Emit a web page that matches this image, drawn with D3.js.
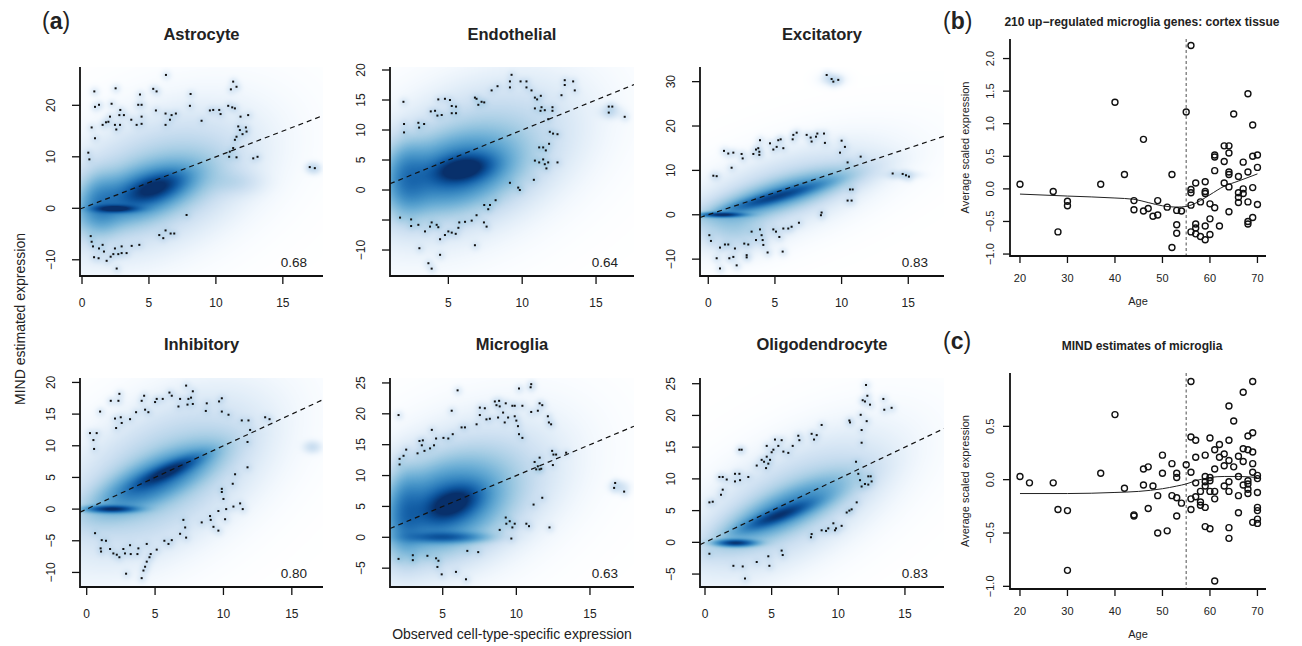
<!DOCTYPE html>
<html>
<head>
<meta charset="utf-8">
<script src="https://cdn.jsdelivr.net/npm/d3@7"></script>
<style>
  body { margin: 0; background: #fff; }
  text { font-family: "Liberation Sans", Arial, sans-serif; fill: #222; }
</style>
</head>
<body>
<svg id="main"></svg>
<script>
// ---- data ----
const cellTypes = ['Astrocyte', 'Endothelial', 'Excitatory', 'Inhibitory', 'Microglia', 'Oligodendrocyte'];
const corrLabels = ['0.68', '0.64', '0.83', '0.80', '0.63', '0.83'];
const xDomains = [[-0.15, 18], [1.05, 17.57], [-0.62, 17.68], [-0.49, 17.28], [1.42, 17.99], [-0.375, 17.93]];
const yDomains = [[-13.15, 27.44], [-14.33, 20.5], [-13.8, 33.3], [-12.3, 20.7], [-8.05, 25.8], [-7.04, 25.9]];
const xTicks = [[0, 5, 10, 15], [5, 10, 15], [0, 5, 10, 15], [0, 5, 10, 15], [5, 10, 15], [0, 5, 10, 15]];
const yTicks = [[-10, 0, 10, 20], [-10, -5, 0, 5, 10, 15, 20], [-10, 0, 10, 20, 30],
  [-10, -5, 0, 5, 10, 15, 20], [-5, 0, 5, 10, 15, 20, 25], [-5, 0, 5, 10, 15, 20, 25]];
const yLabelSkip = [[], [-5], [], [], [], []];
// reference line MIND = observed
const refIntercept = 0, refSlope = 1;

// density clouds: [centre x, centre y, spread x, spread y, correlation, weight]
const astroCloud = [[2.5, -0.1, 1.0, 0.45, 0, 0.8], [5.5, 4.0, 1.3, 1.8, 0.5, 0.6], [4.5, 3.0, 2.6, 3.6, 0.55, 0.45],
  [1.3, 1.0, 0.9, 3.5, 0, 0.22], [5.5, 5, 4, 7.5, 0.4, 0.13], [11.5, 5, 1.2, 1.5, 0, 0.04], [17.3, 7.8, 0.35, 0.7, 0, 0.04]];
const endoCloud = [[6, 3.5, 1.2, 1.4, 0.3, 0.75], [5.5, 3, 2.3, 3.5, 0.3, 0.5], [2.2, 2, 0.9, 3.5, 0, 0.32],
  [6.5, 5, 3.8, 7, 0.4, 0.14], [16, 13, 0.5, 0.7, 0, 0.04]];
const exciCloud = [[1.0, 0, 1.0, 0.35, 0, 0.8], [5, 4, 2.2, 2.0, 0.9, 0.5], [5.5, 4.5, 3.2, 3.4, 0.8, 0.3],
  [5.5, 5, 4, 6, 0.6, 0.09], [2, -3, 1.5, 3, 0, 0.08], [9.3, 30.5, 0.5, 0.8, 0, 0.04], [14.5, 9, 0.8, 0.6, 0, 0.04]];
const inhiCloud = [[1.8, 0, 1.1, 0.35, 0, 0.8], [6, 6, 1.5, 1.6, 0.85, 0.6], [5, 4.5, 2.6, 3.2, 0.75, 0.45],
  [5.5, 5, 4, 7, 0.5, 0.13], [16.5, 9.8, 0.4, 0.6, 0, 0.05]];
const micrCloud = [[5.7, 5.5, 1.1, 1.7, 0.4, 0.7], [5.2, 0, 1.6, 0.55, 0, 0.45], [5, 5, 2.3, 4, 0.3, 0.5],
  [6, 6.5, 3.6, 6.5, 0.4, 0.14], [2.5, 4, 0.7, 4, 0, 0.25], [17, 8.2, 0.4, 0.6, 0, 0.04]];
const oligCloud = [[2.3, -0.1, 0.9, 0.35, 0, 0.8], [5.5, 4.2, 1.6, 1.4, 0.85, 0.55], [6, 5, 2.8, 3.2, 0.8, 0.35],
  [6.5, 6, 4, 6, 0.6, 0.11]];

// sparse points drawn as dots: [observed, MIND]
const astroDots = [[0.92, 22.7], [0.97, 19.7], [1.27, 20.1], [0.72, 15.7], [0.97, 13.6], [0.47, 10.8], [0.55, 9.5],
  [1.54, 16.2], [1.79, 16.7], [1.97, 16.8], [2.09, 17.8], [2.21, 20.3], [2.51, 23.3], [2.46, 16.2], [2.56, 15.3],
  [2.79, 18.1], [2.86, 19.1], [3.13, 18.1], [2.84, 16.2], [3.68, 17.2], [4.08, 16.2], [4.33, 22.1], [4.2, 20.1],
  [4.45, 20.1], [4.45, 17.8], [4.45, 16.4], [5.32, 23.2], [5.57, 22.7], [5.52, 19.0], [6.27, 25.9], [6.24, 18.4],
  [6.24, 16.2], [6.57, 17.2], [6.69, 18.1], [7.01, 18.4], [8.11, 22.2], [8.06, 19.9], [8.93, 17.0], [9.55, 19.0],
  [9.8, 19.1], [10.25, 19.1], [10.35, 18.3], [10.92, 19.9], [11.22, 19.6], [11.42, 19.4], [11.12, 23.1],
  [11.29, 24.6], [11.54, 23.6], [11.84, 17.8], [12.41, 18.1], [11.67, 15.9], [11.79, 15.2], [12.24, 15.7],
  [12.29, 14.9], [11.99, 14.4], [11.54, 13.9], [11.42, 13.3], [11.29, 11.7], [11.04, 11.0], [10.99, 10.0],
  [11.54, 9.9], [12.79, 9.7], [13.11, 10.0], [17.01, 8.0], [17.39, 7.8], [7.81, -1.3], [5.77, -5.2], [6.07, -5.8],
  [6.24, -4.3], [6.62, -4.9], [6.89, -4.9], [0.65, -5.4], [0.72, -6.5], [0.82, -7.4], [0.9, -9.5], [1.24, -9.7],
  [1.27, -7.8], [1.54, -7.1], [1.64, -8.4], [1.84, -10.2], [2.14, -9.4], [2.46, -7.8], [2.59, -11.7], [2.71, -8.9],
  [2.96, -7.4], [2.96, -8.7], [3.33, -8.7], [3.71, -7.3], [4.28, -7.1], [2.34, -8.9]];
const endoDots = [[1.96, 14.7], [2.0, 11.0], [2.0, 9.6], [2.97, 11.2], [3.02, 10.4], [3.36, 11.0], [3.81, 13.1],
  [4.1, 13.2], [4.26, 12.4], [4.55, 12.5], [4.32, 15.1], [4.77, 15.2], [5.11, 15.0], [5.23, 14.0], [5.23, 12.8],
  [5.52, 12.8], [5.52, 13.9], [6.8, 15.4], [6.91, 15.2], [7.03, 14.2], [7.25, 14.7], [7.43, 14.6], [7.93, 16.6],
  [8.33, 17.3], [9.17, 18.1], [9.17, 17.1], [9.28, 19.2], [9.89, 18.1], [10.29, 18.1], [10.29, 17.1], [10.63, 16.6],
  [10.86, 15.4], [11.01, 15.1], [11.26, 15.7], [11.31, 13.8], [10.86, 13.6], [11.24, 13.2], [11.53, 13.3],
  [12.05, 13.8], [12.05, 13.2], [12.66, 15.8], [12.88, 18.3], [12.88, 17.5], [13.45, 18.1], [13.56, 16.6],
  [11.76, 11.8], [11.87, 9.7], [12.09, 9.4], [12.39, 9.3], [11.15, 7.1], [11.42, 7.1], [11.6, 6.6], [11.82, 7.7],
  [10.86, 4.9], [11.15, 4.6], [11.42, 5.1], [11.53, 4.3], [11.76, 4.6], [11.64, 3.6], [12.39, 4.6], [10.79, 1.7],
  [9.17, 1.2], [9.73, 0.4], [9.84, 0.0], [15.86, 13.9], [16.1, 13.9], [15.86, 12.9], [16.94, 12.2], [8.2, -1.7],
  [7.82, -2.5], [7.7, -3.2], [7.43, -2.5], [6.91, -4.2], [6.58, -5.1], [6.13, -5.3], [5.74, -5.4], [5.68, -6.3],
  [5.5, -7.3], [5.23, -7.1], [5.0, -6.9], [4.77, -7.5], [4.44, -8.2], [4.32, -6.2], [4.21, -5.8], [3.87, -5.4],
  [3.76, -6.1], [3.42, -6.9], [2.97, -5.8], [2.48, -4.9], [2.48, -6.0], [1.73, -4.6], [3.04, -9.7], [4.44, -10.8],
  [3.65, -12.2], [3.87, -13.1], [6.8, -9.2], [7.41, -5.4], [7.59, -6.1]];
const exciDots = [[8.88, 31.5], [9.25, 30.6], [9.38, 30.0], [9.75, 30.4], [0.38, 8.8], [0.63, 8.7], [1.18, 14.4],
  [1.5, 13.8], [1.88, 14.0], [1.75, 10.6], [2.5, 13.7], [2.58, 12.7], [3.38, 13.7], [3.58, 14.7], [3.75, 15.0],
  [3.83, 14.2], [3.88, 16.8], [3.83, 13.5], [4.63, 16.1], [4.88, 14.7], [5.13, 15.3], [5.25, 16.8], [5.43, 17.0],
  [5.63, 15.0], [6.33, 17.0], [6.38, 18.0], [6.63, 18.5], [7.38, 18.0], [7.68, 17.4], [7.75, 16.5], [8.18, 18.3],
  [8.08, 17.6], [8.68, 18.3], [8.75, 16.2], [10.0, 16.7], [10.25, 15.3], [9.88, 14.0], [10.45, 11.8], [11.43, 13.1],
  [10.63, 5.7], [10.83, 5.7], [10.45, 3.2], [10.75, 3.2], [8.5, 0.5], [8.45, -0.1], [13.83, 9.3], [14.58, 9.2],
  [14.83, 8.9], [15.05, 8.6], [0.08, -4.6], [0.2, -5.9], [0.63, -9.8], [0.88, -7.4], [0.88, -12.1], [1.25, -6.7],
  [1.5, -6.7], [1.58, -9.8], [2.0, -7.6], [1.88, -9.5], [2.13, -11.4], [2.7, -6.5], [2.88, -9.1], [3.0, -6.7],
  [2.88, -9.6], [3.25, -3.8], [3.58, -5.7], [3.88, -3.3], [4.0, -4.6], [4.08, -5.7], [4.13, -6.8], [4.45, -8.5],
  [4.88, -3.3], [5.08, -3.8], [5.33, -5.0], [5.63, -3.1], [5.58, -8.3], [6.0, -3.1], [6.25, -2.7], [6.8, -1.8]];
const inhiDots = [[0.24, 12.0], [0.73, 12.0], [0.49, 10.9], [0.54, 9.5], [0.98, 15.4], [1.76, 17.1], [2.32, 17.1],
  [2.39, 18.2], [2.07, 14.3], [2.15, 12.8], [2.49, 14.5], [2.56, 13.6], [3.17, 14.2], [3.61, 15.3], [4.02, 17.1],
  [4.2, 17.9], [4.27, 15.7], [4.51, 15.3], [5.0, 16.9], [5.12, 17.4], [5.56, 17.4], [6.05, 18.4], [6.22, 17.9],
  [6.71, 16.2], [6.83, 17.4], [7.27, 19.5], [7.44, 17.4], [7.63, 17.6], [7.76, 18.6], [7.37, 16.5], [7.76, 16.6],
  [8.78, 16.7], [8.71, 15.5], [9.68, 17.0], [9.88, 17.5], [9.88, 15.4], [10.37, 14.9], [11.34, 14.0], [11.83, 14.0],
  [11.95, 12.5], [11.76, 10.6], [13.05, 14.5], [13.37, 14.2], [11.76, 6.6], [10.85, 5.5], [10.68, 4.0], [9.88, 3.2],
  [9.88, 2.7], [10.0, 1.6], [10.2, 0.0], [9.63, -0.3], [10.73, 0.4], [11.22, 0.9], [11.41, 0.0], [10.12, -1.6],
  [9.02, -1.1], [9.07, -1.7], [8.41, -2.1], [9.27, -2.8], [9.63, -3.4], [7.07, -1.7], [7.2, -2.9], [7.27, -4.5],
  [6.83, -3.9], [6.22, -4.9], [5.68, -5.0], [5.98, -5.5], [5.12, -6.4], [4.68, -7.1], [4.59, -7.6], [4.39, -8.3],
  [4.27, -9.1], [4.15, -9.7], [4.02, -10.9], [4.39, -5.5], [3.78, -6.2], [3.71, -7.1], [3.22, -7.1], [3.17, -5.7],
  [2.8, -7.0], [2.88, -10.2], [2.68, -6.3], [2.39, -7.6], [2.2, -7.2], [1.95, -7.0], [1.71, -6.3], [1.41, -5.0],
  [1.1, -4.9], [1.02, -6.2], [1.05, -6.7], [0.61, -3.8]];
const micrDots = [[2.0, 19.8], [2.07, 12.7], [2.07, 11.8], [2.34, 13.2], [2.52, 14.2], [3.29, 13.6], [3.42, 15.6],
  [3.58, 14.9], [3.65, 15.7], [3.76, 14.0], [4.14, 14.4], [4.26, 17.4], [4.41, 14.9], [4.55, 16.0], [5.05, 16.1],
  [5.38, 16.0], [5.68, 16.7], [5.61, 20.5], [6.01, 23.8], [6.28, 17.8], [6.51, 17.8], [7.3, 18.3], [7.52, 21.0],
  [7.52, 19.8], [7.86, 20.9], [7.97, 19.1], [8.2, 19.2], [8.54, 22.0], [8.65, 21.4], [8.83, 22.1], [8.87, 21.2],
  [8.76, 19.4], [9.1, 20.2], [9.28, 21.7], [9.21, 18.6], [9.44, 19.4], [9.73, 21.3], [9.89, 21.3], [9.89, 19.6],
  [10.0, 18.9], [10.11, 18.0], [10.18, 16.7], [10.41, 21.3], [10.41, 16.1], [10.18, 24.1], [11.01, 24.8],
  [10.97, 24.3], [11.01, 20.3], [11.46, 20.5], [11.58, 21.7], [11.76, 21.4], [12.14, 19.6], [12.21, 18.6],
  [12.36, 18.3], [11.24, 12.2], [11.46, 11.5], [11.58, 12.9], [11.35, 11.0], [11.58, 11.0], [11.69, 11.1],
  [12.43, 14.0], [12.52, 13.4], [12.7, 13.4], [12.48, 11.7], [13.38, 13.7], [11.17, 5.3], [11.76, 6.4], [9.28, 3.2],
  [9.32, 2.2], [8.87, 1.2], [9.55, 2.6], [9.73, 1.6], [9.89, 2.2], [9.66, -0.2], [10.68, 2.2], [10.86, 1.8],
  [12.25, 1.6], [16.71, 8.8], [16.64, 8.0], [17.32, 7.4], [2.0, -3.5], [2.97, -2.9], [2.97, -3.7], [3.96, -3.0],
  [4.55, -3.4], [4.71, -3.8], [4.64, -4.8], [4.93, -6.0], [5.9, -5.6], [6.58, -6.8], [6.67, -2.2], [7.41, -2.4]];
const oligDots = [[0.33, 6.3], [0.58, 6.4], [1.08, 10.3], [1.33, 10.3], [1.2, 7.5], [1.33, 8.3], [1.63, 9.9],
  [2.25, 10.8], [2.58, 10.8], [2.25, 9.6], [2.63, 9.8], [2.58, 14.6], [2.75, 14.6], [3.25, 10.3], [3.88, 12.1],
  [4.25, 13.0], [4.43, 12.7], [4.63, 13.5], [4.58, 11.7], [4.75, 12.4], [4.63, 15.2], [4.88, 13.0], [5.0, 14.2],
  [5.13, 14.6], [5.25, 16.2], [5.5, 15.2], [5.75, 16.1], [5.88, 14.3], [6.25, 14.1], [6.58, 15.2], [7.0, 16.8],
  [7.08, 16.1], [8.0, 17.1], [8.18, 16.2], [8.38, 16.9], [8.75, 18.5], [10.83, 19.2], [10.88, 18.9], [11.68, 20.1],
  [11.83, 22.4], [12.0, 22.2], [12.08, 24.8], [12.18, 23.1], [12.13, 19.1], [12.38, 21.7], [11.75, 17.7],
  [11.75, 15.7], [13.38, 22.6], [13.45, 20.9], [14.0, 21.2], [11.33, 12.7], [11.5, 10.8], [11.63, 9.8], [11.75, 8.8],
  [12.0, 9.2], [12.25, 9.1], [12.43, 10.4], [12.5, 9.6], [12.25, 10.4], [11.38, 6.3], [10.83, 5.0], [10.63, 4.7],
  [11.0, 5.2], [10.25, 2.6], [9.83, 2.2], [9.63, 3.0], [9.25, 2.2], [9.08, 1.8], [8.75, 1.9], [9.75, 1.9], [8.0, 1.3],
  [7.95, 0.8], [5.75, -1.3], [5.83, -2.0], [4.75, -2.2], [4.83, -3.7], [3.88, -3.1], [2.83, -3.8], [2.13, -3.7],
  [3.0, -5.7], [0.33, -1.8]];

// (b) 210 up-regulated microglia genes: [age, average scaled expression]
const bTitle = '210 up\u2212regulated microglia genes: cortex tissue';
const bPoints = [[20, 0.07], [27, -0.04], [28, -0.66], [30, -0.19], [30, -0.26], [37, 0.07], [40, 1.33], [42, 0.22],
  [44, -0.18], [44, -0.32], [46, 0.76], [46, -0.34], [47, -0.30], [48, -0.42], [49, -0.18], [49, -0.40], [51, -0.28],
  [52, 0.22], [52, -0.90], [53, -0.33], [53, -0.55], [53, -0.68], [54, -0.34], [55, 1.18], [56, 2.20], [56, -0.01],
  [56, -0.06], [56, -0.25], [56, -0.66], [57, 0.09], [57, -0.54], [57, -0.60], [57, -0.69], [58, -0.20], [58, -0.73],
  [59, 0.11], [59, -0.04], [59, -0.07], [59, -0.57], [59, -0.78], [60, -0.23], [60, -0.46], [60, -0.70], [61, 0.52],
  [61, 0.49], [61, 0.28], [61, -0.29], [62, -0.57], [63, 0.66], [63, 0.42], [63, 0.09], [64, 0.66], [64, 0.55],
  [64, 0.26], [64, 0.22], [64, 0.03], [64, -0.35], [65, 1.15], [66, 0.19], [66, -0.06], [66, -0.13], [66, -0.21],
  [67, 0.41], [67, 0.00], [67, -0.07], [68, 1.46], [68, 0.26], [68, -0.20], [68, -0.50], [68, -0.54], [69, 0.98],
  [69, 0.50], [69, 0.02], [69, -0.44], [70, 0.52], [70, 0.33], [70, -0.24]];
const bFit = [[20, -0.08], [30, -0.11], [40, -0.14], [44, -0.16], [47, -0.21], [50, -0.26], [53, -0.28], [55, -0.27],
  [58, -0.18], [60, -0.09], [63, 0.04], [66, 0.12], [70, 0.23]];
// (c) MIND estimates of microglia
const cTitle = 'MIND estimates of microglia';
const cPoints = [[20, 0.03], [22, -0.03], [27, -0.03], [28, -0.28], [30, -0.29], [30, -0.85], [37, 0.06], [40, 0.61],
  [42, -0.08], [44, -0.33], [44, -0.34], [46, 0.10], [46, -0.05], [47, 0.12], [47, -0.27], [48, -0.06], [49, -0.15],
  [49, -0.50], [50, 0.23], [50, 0.06], [51, -0.48], [52, 0.15], [52, -0.15], [53, 0.06], [53, 0.02], [53, -0.17],
  [53, -0.34], [54, -0.22], [55, 0.14], [56, 0.92], [56, 0.40], [56, 0.07], [56, -0.18], [56, -0.28], [57, 0.37],
  [57, 0.21], [57, -0.03], [57, -0.16], [58, -0.11], [58, -0.21], [58, -0.24], [59, 0.23], [59, 0.03], [59, -0.02],
  [59, -0.06], [59, -0.26], [59, -0.44], [60, 0.39], [60, 0.02], [60, -0.01], [60, -0.11], [60, -0.46], [61, 0.28],
  [61, 0.10], [61, -0.11], [61, -0.18], [61, -0.95], [62, 0.33], [62, 0.21], [63, 0.24], [63, 0.13], [63, -0.06],
  [64, 0.69], [64, 0.37], [64, 0.18], [64, -0.02], [64, -0.11], [64, -0.45], [64, -0.55], [65, 0.55], [65, 0.12],
  [66, 0.22], [66, 0.03], [66, -0.15], [66, -0.31], [67, 0.82], [67, 0.29], [67, 0.17], [67, -0.05], [68, 0.41],
  [68, 0.28], [68, -0.01], [68, -0.04], [68, -0.09], [68, -0.13], [69, 0.92], [69, 0.44], [69, 0.26], [69, 0.15],
  [69, 0.07], [69, -0.40], [70, 0.04], [70, 0.01], [70, -0.12], [70, -0.26], [70, -0.29], [70, -0.37], [70, -0.41]];
const cFit = [[20, -0.13], [30, -0.13], [40, -0.12], [45, -0.11], [50, -0.085], [53, -0.06], [55, -0.04], [57, -0.01],
  [60, 0.02], [63, 0.03], [66, 0.03], [70, 0.02]];
const ageTicks = [20, 30, 40, 50, 60, 70];
const ageDomain = [17.9, 71.8];
const ageCut = 55;
const bYTicks = [-1, -0.5, 0, 0.5, 1, 1.5, 2];
const bYDomain = [-1.03, 2.3];
const cYTicks = [-1, -0.5, 0, 0.5];
const cYDomain = [-1.025, 1.0];

const clouds = [astroCloud, endoCloud, exciCloud, inhiCloud, micrCloud, oligCloud];
const dots = [astroDots, endoDots, exciDots, inhiDots, micrDots, oligDots];

// ---- drawing ----
const width = 1302, height = 646;
const svg = d3.select('#main').attr('width', width).attr('height', height);

const colLeft = [80, 390, 700], colRight = [323, 634, 944];
const rowTop = [67, 378], rowBottom = [276, 587];

const blues = ['#ffffff', '#f7fbff', '#deebf7', '#c6dbef', '#9ecae1', '#6baed6', '#4292c6', '#2171b5', '#08519c', '#08306b'];
const ramp = d3.interpolateRgbBasis(blues);
const lut = d3.range(256).map(i => d3.rgb(ramp(i / 255)));

drawCloud = (g, x, y, cloud, pts) => {
  const [px0, px1] = x.range(), [py1, py0] = y.range();
  const w = Math.round(px1 - px0), h = Math.round(py1 - py0);
  const cv = document.createElement('canvas');
  cv.width = w; cv.height = h;
  const ctx = cv.getContext('2d');
  const img = ctx.createImageData(w, h);
  const pp = pts.map(d => [x(d[0]) - px0, y(d[1]) - py0]);
  for (let j = 0; j < h; j++) {
    const dy = y.invert(py0 + j + 0.5);
    for (let i = 0; i < w; i++) {
      const dx = x.invert(px0 + i + 0.5);
      let dens = 0;
      for (const [cx, cy, sx, sy, rho, wt] of cloud) {
        const a = (dx - cx) / sx, b = (dy - cy) / sy;
        dens += wt * Math.exp(-0.5 * (a * a - 2 * rho * a * b + b * b) / (1 - rho * rho));
      }
      for (const [qx, qy] of pp) {
        const r2 = (i - qx) * (i - qx) + (j - qy) * (j - qy);
        if (r2 < 120) dens += 0.02 * Math.exp(-r2 / 20);
      }
      const v = Math.min(1, Math.pow(dens, 0.4));
      const c = lut[Math.round(v * 255)];
      const k = 4 * (j * w + i);
      img.data[k] = c.r; img.data[k + 1] = c.g; img.data[k + 2] = c.b; img.data[k + 3] = 255;
    }
  }
  ctx.putImageData(img, 0, 0);
  g.append('image')
    .attr('x', px0).attr('y', py0)
    .attr('width', w).attr('height', h)
    .attr('href', cv.toDataURL());
};

drawFrame = (g, x, y, xt, yt, xfmt, yfmt, tick, fs, xOff, yOff) => {
  const [px0, px1] = x.range(), [py1, py0] = y.range();
  // x ticks
  const gx = g.append('g').attr('transform', `translate(0,${py1})`);
  gx.selectAll('line').data(xt).enter().append('line')
    .attr('x1', d => x(d)).attr('x2', d => x(d))
    .attr('y1', 0).attr('y2', tick)
    .attr('stroke', '#111').attr('stroke-width', 1.3);
  gx.selectAll('text').data(xt).enter().append('text')
    .attr('x', d => x(d)).attr('y', xOff)
    .attr('text-anchor', 'middle').attr('font-size', fs)
    .text(xfmt);
  // y ticks
  const gy = g.append('g').attr('transform', `translate(${px0},0)`);
  gy.selectAll('line').data(yt).enter().append('line')
    .attr('x1', 0).attr('x2', -tick)
    .attr('y1', d => y(d)).attr('y2', d => y(d))
    .attr('stroke', '#111').attr('stroke-width', 1.3);
  gy.selectAll('text').data(yt).enter().append('text')
    .attr('transform', d => `translate(${-yOff},${y(d)}) rotate(-90)`)
    .attr('text-anchor', 'middle').attr('font-size', fs)
    .text(yfmt);
  // L-shaped box
  g.append('path')
    .attr('d', `M${px0},${py0}V${py1}H${px1}`)
    .attr('fill', 'none').attr('stroke', '#111').attr('stroke-width', 1.8);
};

const fmtInt = d3.format('d');

cellTypes.forEach((name, k) => {
  const col = k % 3, row = Math.floor(k / 3);
  const x = d3.scaleLinear().domain(xDomains[k]).range([colLeft[col], colRight[col]]);
  const y = d3.scaleLinear().domain(yDomains[k]).range([rowBottom[row], rowTop[row]]);
  const g = svg.append('g');
  const clipId = 'clip' + k;
  svg.append('clipPath').attr('id', clipId).append('rect')
    .attr('x', colLeft[col]).attr('y', rowTop[row])
    .attr('width', colRight[col] - colLeft[col]).attr('height', rowBottom[row] - rowTop[row]);

  drawCloud(g, x, y, clouds[k], dots[k]);

  g.selectAll('.dot').data(dots[k]).enter().append('rect')
    .attr('class', 'dot')
    .attr('x', d => x(d[0]) - 1).attr('y', d => y(d[1]) - 1)
    .attr('width', 2).attr('height', 2)
    .attr('fill', '#111');

  const xs = xDomains[k];
  g.append('line')
    .attr('clip-path', `url(#${clipId})`)
    .attr('x1', x(xs[0])).attr('y1', y(refIntercept + refSlope * xs[0]))
    .attr('x2', x(xs[1])).attr('y2', y(refIntercept + refSlope * xs[1]))
    .attr('stroke', '#111').attr('stroke-width', 1.2)
    .attr('stroke-dasharray', '5,4');

  drawFrame(g, x, y, xTicks[k], yTicks[k], fmtInt,
    d => yLabelSkip[k].includes(d) ? '' : fmtInt(d), 8, '12px', 31, 25);

  g.append('text')
    .attr('x', (colLeft[col] + colRight[col]) / 2)
    .attr('y', row === 0 ? 40 : 350)
    .attr('text-anchor', 'middle')
    .attr('font-size', '16.5px').attr('font-weight', 'bold')
    .text(name);

  g.append('text')
    .attr('x', colRight[col] - 16).attr('y', rowBottom[row] - 9)
    .attr('text-anchor', 'end').attr('font-size', '13.5px')
    .text(corrLabels[k]);
});

svg.append('text')
  .attr('transform', 'translate(25,319) rotate(-90)')
  .attr('text-anchor', 'middle').attr('font-size', '14px')
  .text('MIND estimated expression');
svg.append('text')
  .attr('x', 512).attr('y', 639)
  .attr('text-anchor', 'middle').attr('font-size', '14px')
  .text('Observed cell-type-specific expression');

// panel letters
[['a', 42, 29], ['b', 943, 29], ['c', 943, 349]].forEach(([l, lx, ly]) => {
  const t = svg.append('text').attr('x', lx).attr('y', ly).attr('font-size', '23px');
  t.append('tspan').text('(');
  t.append('tspan').attr('font-weight', 'bold').text(l);
  t.append('tspan').text(')');
});

// (b) and (c)
const ageLeft = 1010, ageRight = 1266;
[[bPoints, bFit, bTitle, bYTicks, bYDomain, 39, 256, 26],
 [cPoints, cFit, cTitle, cYTicks, cYDomain, 373, 589, 350]].forEach(([pts, fit, title, yt, yd, top, bottom, ty]) => {
  const x = d3.scaleLinear().domain(ageDomain).range([ageLeft, ageRight]);
  const y = d3.scaleLinear().domain(yd).range([bottom, top]);
  const g = svg.append('g');

  g.append('line')
    .attr('x1', x(ageCut)).attr('x2', x(ageCut))
    .attr('y1', top).attr('y2', bottom)
    .attr('stroke', '#777').attr('stroke-width', 1.3)
    .attr('stroke-dasharray', '3,2.5');

  g.append('path')
    .datum(fit)
    .attr('d', d3.line().x(d => x(d[0])).y(d => y(d[1])).curve(d3.curveMonotoneX))
    .attr('fill', 'none').attr('stroke', '#222').attr('stroke-width', 1);

  g.selectAll('circle').data(pts).enter().append('circle')
    .attr('cx', d => x(d[0])).attr('cy', d => y(d[1]))
    .attr('r', 3)
    .attr('fill', 'none').attr('stroke', '#111').attr('stroke-width', 1.4);

  drawFrame(g, x, y, ageTicks, yt, fmtInt, d3.format('.1f'), 7, '11px', 25.5, 16);

  g.append('text')
    .attr('x', (ageLeft + ageRight) / 2 + 4).attr('y', ty)
    .attr('text-anchor', 'middle')
    .attr('font-size', '12px').attr('font-weight', 'bold')
    .text(title);
  g.append('text')
    .attr('x', 1138).attr('y', bottom + 49)
    .attr('text-anchor', 'middle').attr('font-size', '11px')
    .text('Age');
  g.append('text')
    .attr('transform', `translate(969,${(top + bottom) / 2}) rotate(-90)`)
    .attr('text-anchor', 'middle').attr('font-size', '11px')
    .text('Average scaled expression');
});
</script>
</body>
</html>
